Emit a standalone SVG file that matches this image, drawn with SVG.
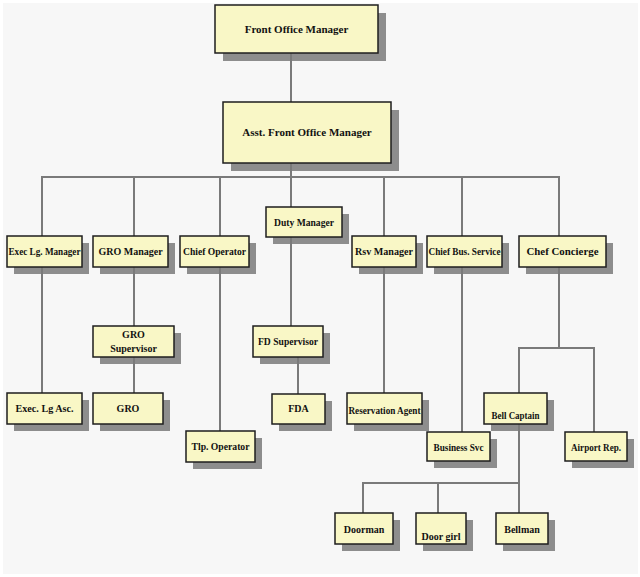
<svg xmlns="http://www.w3.org/2000/svg" width="640" height="577" viewBox="0 0 640 577">
<style>
.sh{fill:#7a7a7a;opacity:0.85}
.bx{fill:#f9f7c6;stroke:#1e1e1e;stroke-width:1.5}
.t{font-family:'Liberation Serif','DejaVu Serif',serif;font-weight:bold;font-size:10px;fill:#111;text-anchor:middle}
.big{font-size:11px}
.c{stroke:#7a7a7a;stroke-width:2;fill:none}
</style>
<rect x="0" y="0" width="640" height="577" fill="#ffffff"/>
<rect x="3" y="3" width="635" height="571" fill="#f7f7f7"/>
<g id="connectors">
<path class="c" d="M291 53V102"/>
<path class="c" d="M291 163V207"/>
<path class="c" d="M42 236V177H559V236"/>
<path class="c" d="M134 177V236M220 177V236M384 177V236M462 177V236"/>
<path class="c" d="M42 267V393"/>
<path class="c" d="M134 267V326M134 357V393"/>
<path class="c" d="M220 267V431"/>
<path class="c" d="M291 237V326"/>
<path class="c" d="M298 357V394"/>
<path class="c" d="M384 267V393"/>
<path class="c" d="M462 267V432"/>
<path class="c" d="M559 267V348"/>
<path class="c" d="M519 393V348H594V432"/>
<path class="c" d="M519 424V483"/>
<path class="c" d="M363 513V483H519V513M438 483V513"/>
</g>
<g id="n-fom"><rect class="sh" x="223" y="13" width="163" height="48"/><rect class="bx" x="215" y="5" width="163" height="48"/><text class="t big" x="296.5" y="33">Front Office Manager</text></g>
<g id="n-afom"><rect class="sh" x="231" y="110" width="168" height="61"/><rect class="bx" x="223" y="102" width="168" height="61"/><text class="t big" x="307" y="136">Asst. Front Office Manager</text></g>
<g id="n-exec"><rect class="sh" x="14" y="243" width="75" height="31"/><rect class="bx" x="7" y="236" width="75" height="31"/><text class="t" x="44.5" y="255" textLength="72" lengthAdjust="spacingAndGlyphs">Exec Lg. Manager</text></g>
<g id="n-gro-mgr"><rect class="sh" x="100" y="243" width="75" height="31"/><rect class="bx" x="93" y="236" width="75" height="31"/><text class="t" x="130.5" y="255">GRO Manager</text></g>
<g id="n-chief-op"><rect class="sh" x="187" y="243" width="69" height="31"/><rect class="bx" x="180" y="236" width="69" height="31"/><text class="t" x="214.5" y="255" textLength="63" lengthAdjust="spacingAndGlyphs">Chief Operator</text></g>
<g id="n-duty"><rect class="sh" x="273" y="214" width="76" height="30"/><rect class="bx" x="266" y="207" width="76" height="30"/><text class="t" x="304" y="226" textLength="60" lengthAdjust="spacingAndGlyphs">Duty Manager</text></g>
<g id="n-rsv"><rect class="sh" x="359" y="243" width="64" height="31"/><rect class="bx" x="352" y="236" width="64" height="31"/><text class="t" x="384" y="255" textLength="58" lengthAdjust="spacingAndGlyphs">Rsv Manager</text></g>
<g id="n-chief-bus"><rect class="sh" x="434" y="243" width="75" height="31"/><rect class="bx" x="427" y="236" width="75" height="31"/><text class="t" x="464.5" y="255" textLength="72" lengthAdjust="spacingAndGlyphs">Chief Bus. Service</text></g>
<g id="n-concierge"><rect class="sh" x="526" y="243" width="87" height="31"/><rect class="bx" x="519" y="236" width="87" height="31"/><text class="t" x="562.5" y="255" textLength="72" lengthAdjust="spacingAndGlyphs">Chef Concierge</text></g>
<g id="n-gro-sup"><rect class="sh" x="100" y="333" width="81" height="31"/><rect class="bx" x="93" y="326" width="81" height="31"/><text class="t" x="133.5" y="338">GRO</text><text class="t" x="133.5" y="352">Supervisor</text></g>
<g id="n-fd-sup"><rect class="sh" x="260" y="333" width="70" height="31"/><rect class="bx" x="253" y="326" width="70" height="31"/><text class="t" x="288" y="345" textLength="60" lengthAdjust="spacingAndGlyphs">FD Supervisor</text></g>
<g id="n-exec-asc"><rect class="sh" x="14" y="400" width="75" height="31"/><rect class="bx" x="7" y="393" width="75" height="31"/><text class="t" x="44.5" y="412" textLength="58" lengthAdjust="spacingAndGlyphs">Exec. Lg Asc.</text></g>
<g id="n-gro"><rect class="sh" x="100" y="400" width="70" height="31"/><rect class="bx" x="93" y="393" width="70" height="31"/><text class="t" x="128" y="412">GRO</text></g>
<g id="n-tlp"><rect class="sh" x="193" y="438" width="69" height="31"/><rect class="bx" x="186" y="431" width="69" height="31"/><text class="t" x="220.5" y="450" textLength="58" lengthAdjust="spacingAndGlyphs">Tlp. Operator</text></g>
<g id="n-fda"><rect class="sh" x="279" y="401" width="53" height="30"/><rect class="bx" x="272" y="394" width="53" height="30"/><text class="t" x="298.5" y="412">FDA</text></g>
<g id="n-res-agent"><rect class="sh" x="354" y="400" width="75" height="31"/><rect class="bx" x="347" y="393" width="75" height="31"/><text class="t" x="384.5" y="414" textLength="72" lengthAdjust="spacingAndGlyphs">Reservation Agent</text></g>
<g id="n-bell-cap"><rect class="sh" x="491" y="400" width="63" height="31"/><rect class="bx" x="484" y="393" width="63" height="31"/><text class="t" x="515.5" y="419" textLength="48" lengthAdjust="spacingAndGlyphs">Bell Captain</text></g>
<g id="n-bus-svc"><rect class="sh" x="434" y="439" width="63" height="29"/><rect class="bx" x="427" y="432" width="63" height="29"/><text class="t" x="458.5" y="451" textLength="50" lengthAdjust="spacingAndGlyphs">Business Svc</text></g>
<g id="n-airport"><rect class="sh" x="572" y="439" width="62" height="29"/><rect class="bx" x="565" y="432" width="62" height="29"/><text class="t" x="596" y="451" textLength="50" lengthAdjust="spacingAndGlyphs">Airport Rep.</text></g>
<g id="n-doorman"><rect class="sh" x="342" y="520" width="58" height="31"/><rect class="bx" x="335" y="513" width="58" height="31"/><text class="t" x="364" y="533">Doorman</text></g>
<g id="n-doorgirl"><rect class="sh" x="423" y="520" width="50" height="31"/><rect class="bx" x="416" y="513" width="50" height="31"/><text class="t" x="441" y="540">Door girl</text></g>
<g id="n-bellman"><rect class="sh" x="503" y="520" width="52" height="31"/><rect class="bx" x="496" y="513" width="52" height="31"/><text class="t" x="522" y="533">Bellman</text></g>
</svg>
